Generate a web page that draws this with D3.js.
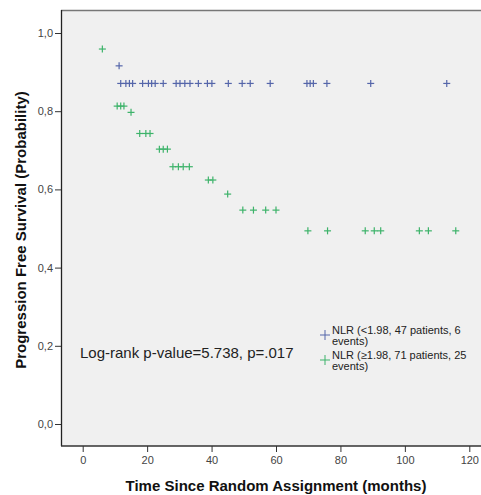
<!DOCTYPE html>
<meta charset="utf-8">
<head>
  <script src="https://d3js.org/d3.v7.min.js"></script>
  <style>
    body { margin: 0; background: #fff; font-family: "Liberation Sans", Arial, sans-serif; }
    .tick text { fill: #444; font-size: 11px; }
    .axis-title { font-weight: bold; font-size: 15px; fill: #111; }
  </style>
</head>
<body>
<script>
  // censored observations (months) and survival probability at that time
  var lowTimes = [11.3, 11.8, 13.4, 14.5, 15.5, 18.6, 20.4, 21.4, 22.5, 25.0, 29.0, 30.2, 31.7, 33.3,
    35.9, 38.7, 40.1, 45.2, 49.5, 52.0, 58.2, 69.6, 70.6, 71.6, 75.8, 89.4, 113.0];
  var lowSurv = [0.916, 0.871, 0.871, 0.871, 0.871, 0.871, 0.871, 0.871, 0.871, 0.871, 0.871, 0.871, 0.871, 0.871,
    0.871, 0.871, 0.871, 0.871, 0.871, 0.871, 0.871, 0.871, 0.871, 0.871, 0.871, 0.871, 0.871];

  var highTimes = [6.1, 10.7, 11.8, 12.8, 15.0, 17.7, 19.6, 20.9, 23.8, 25.0, 26.3, 28.0, 29.7, 31.2, 33.1,
    39.0, 40.4, 45.0, 49.7, 53.0, 56.8, 60.0, 69.9, 76.0, 87.7, 90.5, 92.5, 104.5, 107.3, 115.8];
  var highSurv = [0.959, 0.813, 0.813, 0.813, 0.797, 0.743, 0.743, 0.743, 0.703, 0.703, 0.703, 0.658, 0.658, 0.658, 0.658,
    0.624, 0.624, 0.588, 0.547, 0.547, 0.547, 0.547, 0.494, 0.494, 0.494, 0.494, 0.494, 0.494, 0.494, 0.494];

  var xTicks = [0, 20, 40, 60, 80, 100, 120];
  var yTicks = [0, 0.2, 0.4, 0.6, 0.8, 1.0];
  var legendLabels = [["NLR (<1.98, 47 patients, 6", "events)"], ["NLR (\u22651.98, 71 patients, 25", "events)"]];
  var colors = ["#5566aa", "#3db36a"];

  var W = 481, H = 495;
  var frame = { left: 61, top: 10, right: 481, bottom: 446 };

  var x = d3.scaleLinear().domain([0, 120]).range([82.7, 469.3]);
  var y = d3.scaleLinear().domain([0, 1]).range([424, 33]);

  var svg = d3.select("body").append("svg")
    .attr("width", W).attr("height", H);

  svg.append("rect")
    .attr("x", frame.left).attr("y", frame.top)
    .attr("width", frame.right - frame.left).attr("height", frame.bottom - frame.top)
    .style("fill", "#f0f0f0");

  // top border
  svg.append("line")
    .attr("x1", frame.left).attr("x2", frame.right)
    .attr("y1", frame.top + 0.5).attr("y2", frame.top + 0.5)
    .style("stroke", "#777").style("stroke-width", 1.5);

  // axes
  var yAxis = svg.append("g")
    .attr("transform", "translate(" + frame.left + ",0)")
    .call(d3.axisLeft(y).tickValues(yTicks).tickSize(6).tickPadding(2)
      .tickFormat(function (d) { return d3.format(".1f")(d).replace(".", ","); }));
  yAxis.select(".domain").remove();
  yAxis.selectAll(".tick line").style("stroke", "#333");

  var xAxis = svg.append("g")
    .attr("transform", "translate(0," + frame.bottom + ")")
    .call(d3.axisBottom(x).tickValues(xTicks).tickSize(6).tickPadding(4));
  xAxis.select(".domain").remove();
  xAxis.selectAll(".tick line").style("stroke", "#333");

  svg.append("line")
    .attr("x1", frame.left + 0.5).attr("x2", frame.left + 0.5)
    .attr("y1", frame.top).attr("y2", frame.bottom)
    .style("stroke", "#222").style("stroke-width", 1.3);
  svg.append("line")
    .attr("x1", frame.left).attr("x2", frame.right)
    .attr("y1", frame.bottom).attr("y2", frame.bottom)
    .style("stroke", "#333").style("stroke-width", 1.5);

  function cross(g, cx, cy, r, color, sw) {
    g.append("line").attr("x1", cx - r).attr("x2", cx + r).attr("y1", cy).attr("y2", cy)
      .style("stroke", color).style("stroke-width", sw);
    g.append("line").attr("x1", cx).attr("x2", cx).attr("y1", cy - r).attr("y2", cy + r)
      .style("stroke", color).style("stroke-width", sw);
  }

  var marks = svg.append("g");
  lowTimes.forEach(function (t, i) {
    cross(marks, x(t), y(lowSurv[i]), 3.5, colors[0], 1.2);
  });
  highTimes.forEach(function (t, i) {
    cross(marks, x(t), y(highSurv[i]), 3.5, colors[1], 1.2);
  });

  svg.append("text")
    .attr("x", 80).attr("y", 358)
    .style("font-size", "15px").style("fill", "#222")
    .text("Log-rank p-value=5.738, p=.017");

  // legend
  legendLabels.forEach(function (lines, i) {
    var top = 330 + i * 25;
    cross(svg, 325, top + 5, 5, colors[i], 1);
    lines.forEach(function (s, k) {
      svg.append("text")
        .attr("x", 332).attr("y", top + 4 + k * 10.5)
        .style("font-size", "11px").style("fill", "#222")
        .text(s);
    });
  });

  svg.append("text")
    .attr("class", "axis-title")
    .attr("x", 276).attr("y", 491)
    .attr("text-anchor", "middle")
    .text("Time Since Random Assignment (months)");

  svg.append("text")
    .attr("class", "axis-title")
    .attr("transform", "translate(26,230) rotate(-90)")
    .attr("text-anchor", "middle")
    .text("Progression Free Survival (Probability)");
</script>
</body>
</html>
